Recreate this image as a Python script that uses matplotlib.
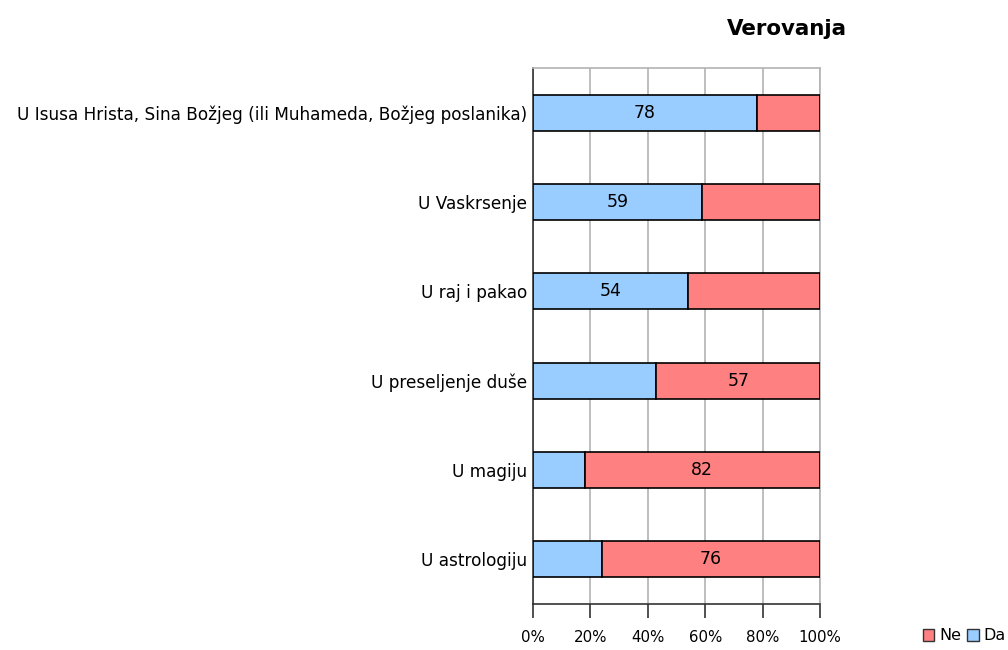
import matplotlib.pyplot as plt
from matplotlib.patches import Patch
import numpy as np

plt.rcParams['font.family'] = ['DejaVu Sans']

categories = ['U Isusa Hrista, Sina Božjeg (ili Muhameda, Božjeg poslanika)',
              'U Vaskrsenje', 'U raj i pakao', 'U preseljenje duše',
              'U magiju', 'U astrologiju']
da = [78, 59, 54, 43, 18, 24]
ne = [22, 41, 46, 57, 82, 76]
ticks = [0, 20, 40, 60, 80, 100]
tick_labels = ['0%', '20%', '40%', '60%', '80%', '100%']

blue = '#99CCFF'
red = '#FF8080'

fig = plt.figure(figsize=(10.08, 6.5), dpi=100)
ax = fig.add_axes([533 / 1008, 1 - 604 / 650, 287 / 1008, 536 / 650])

y = np.arange(len(categories))
ax.barh(y, da, height=0.4, color=blue, edgecolor='black', linewidth=1.2, zorder=3)
ax.barh(y, ne, left=da, height=0.4, color=red, edgecolor='black', linewidth=1.2, zorder=3)

# only the bigger part of each bar gets its number
for i in range(len(categories)):
    if da[i] >= ne[i]:
        ax.text(da[i] / 2, y[i], str(da[i]), ha='center', va='center', fontsize=12.5, zorder=4)
    else:
        ax.text(da[i] + ne[i] / 2, y[i], str(ne[i]), ha='center', va='center', fontsize=12.5, zorder=4)

ax.set_xlim(0, 100)
ax.set_ylim(len(categories) - 0.5, -0.5)
ax.set_xticks(ticks)
ax.set_xticklabels(tick_labels, fontsize=10.8)
ax.set_yticks(y)
ax.set_yticklabels(categories, fontsize=12.2)
ax.tick_params(axis='x', length=10, width=1.2, color='#333333', pad=9)
ax.tick_params(axis='y', length=0, pad=4)
ax.xaxis.grid(True, color='#b3b3b3', linewidth=1.2, zorder=0)
ax.set_axisbelow(True)

for s in ['top', 'right']:
    ax.spines[s].set_color('#b3b3b3')
    ax.spines[s].set_linewidth(1.2)
for s in ['left', 'bottom']:
    ax.spines[s].set_color('#333333')
    ax.spines[s].set_linewidth(1.2)

fig.text(787 / 1008, 1 - 29 / 650, 'Verovanja', ha='center', va='center',
         fontsize=15.4, fontweight='bold')

handles = [Patch(facecolor=red, edgecolor='#333333', label='Ne'),
           Patch(facecolor=blue, edgecolor='#333333', label='Da')]
fig.legend(handles=handles, loc='lower right', bbox_to_anchor=(1.012, -0.012), ncol=2,
           frameon=False, fontsize=11.5, handlelength=0.7, handleheight=0.8,
           handletextpad=0.3, columnspacing=0.4)

fig.savefig('out.png', dpi=100)
